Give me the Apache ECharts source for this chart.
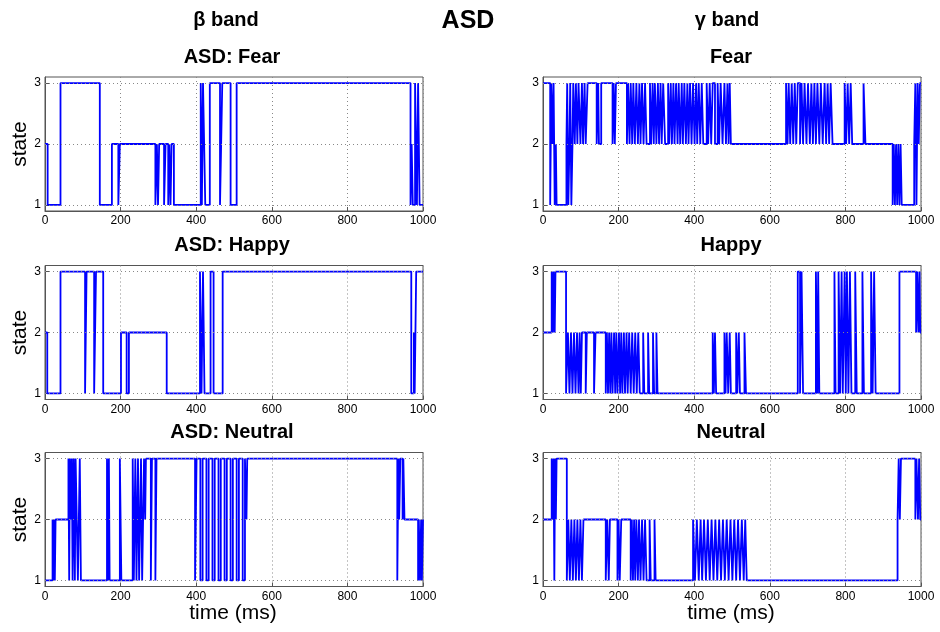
<!DOCTYPE html>
<html>
<head>
<meta charset="utf-8">
<script src="https://cdn.jsdelivr.net/npm/echarts@6/dist/echarts.min.js"></script>
<style>html,body{margin:0;padding:0;background:#fff}#c{width:940px;height:632px}</style>
</head>
<body>
<div id="c"></div>
<script>
// state sequences: [time (ms), state] — each state holds until the next entry
const betaFear = [[0,2],[7,1],[41,3],[145,1],[177,2],[194,1],[198,2],[292,1],[296,2],[299,1],[302,2],[315,1],[319,2],[326,1],[329,2],[332,1],[335,2],[341,1],[412,3],[415,1],[418,3],[421,2],[424,1],[436,3],[463,1],[466,2],[469,3],[491,1],[507,3],[967,1],[970,2],[973,1],[979,3],[984,1],[987,3],[991,1],[1000,1]];
const betaHappy = [[0,2],[6,1],[41,3],[106,1],[110,3],[115,3],[130,1],[135,3],[148,3],[154,1],[159,1],[201,2],[216,1],[222,2],[226,2],[322,1],[410,3],[414,1],[418,3],[422,1],[438,3],[446,1],[470,3],[969,1],[976,2],[978,1],[982,3],[1000,3]];
const betaNeutral = [[0,1],[20,2],[22,1],[24,2],[26,1],[28,2],[62,3],[64,1],[66,3],[68,2],[71,3],[73,1],[76,3],[79,1],[81,3],[84,2],[87,1],[92,3],[95,1],[164,3],[167,1],[169,3],[171,1],[198,3],[202,1],[232,3],[235,1],[239,3],[242,1],[246,3],[249,1],[254,3],[257,1],[262,3],[265,2],[267,3],[280,1],[283,3],[292,1],[295,3],[397,1],[401,3],[411,1],[417,3],[427,1],[433,3],[443,1],[449,3],[459,1],[465,3],[475,1],[481,3],[491,1],[497,3],[507,1],[513,3],[523,1],[529,3],[533,2],[535,3],[932,1],[935,3],[937,2],[940,3],[946,2],[948,3],[951,2],[987,1],[989,2],[992,1],[995,2],[997,1],[1000,2]];
const gammaFear = [[0,3],[19,1],[22,3],[25,2],[28,3],[31,1],[34,2],[36,1],[62,2],[64,3],[67,1],[70,2],[72,3],[75,1],[78,2],[80,3],[84,2],[87,3],[91,2],[94,3],[99,2],[103,3],[106,2],[110,3],[113,2],[118,3],[142,2],[146,3],[148,2],[154,3],[184,2],[187,3],[190,2],[193,3],[222,2],[225,3],[229,2],[232,3],[236,2],[239,3],[243,2],[247,3],[251,2],[255,3],[258,2],[262,3],[266,2],[270,3],[274,2],[283,3],[286,2],[290,3],[293,2],[296,3],[300,2],[304,3],[307,2],[311,3],[314,2],[318,3],[323,2],[331,3],[334,2],[338,3],[341,2],[345,3],[348,2],[352,3],[356,2],[359,3],[363,2],[367,3],[370,2],[374,3],[378,2],[382,3],[385,2],[389,3],[393,2],[397,3],[401,2],[405,3],[408,2],[412,3],[416,2],[420,3],[424,2],[433,3],[437,2],[441,3],[445,2],[449,3],[455,2],[462,3],[466,2],[470,3],[475,2],[480,3],[484,2],[488,3],[491,2],[494,3],[497,2],[643,3],[647,2],[650,3],[654,2],[658,3],[662,2],[666,3],[670,2],[674,3],[680,2],[684,3],[688,2],[692,3],[697,2],[701,3],[706,2],[710,3],[714,2],[718,3],[722,2],[726,3],[731,2],[735,3],[740,2],[745,3],[749,2],[753,3],[757,2],[761,3],[766,2],[798,3],[802,2],[806,3],[810,2],[814,3],[818,2],[848,3],[853,2],[925,1],[928,2],[931,1],[934,2],[937,1],[940,2],[943,1],[946,2],[949,1],[982,2],[985,3],[988,1],[991,3],[994,2],[997,3],[1000,3]];
const gammaHappy = [[0,2],[23,3],[26,2],[28,3],[31,2],[33,3],[61,1],[66,2],[70,1],[74,2],[78,1],[82,2],[86,1],[90,2],[94,1],[97,2],[100,1],[103,2],[113,1],[116,2],[135,1],[139,2],[166,1],[169,2],[172,1],[175,2],[178,1],[181,2],[184,1],[188,2],[191,1],[194,2],[197,1],[201,2],[204,1],[207,2],[210,1],[214,2],[217,1],[221,2],[224,1],[228,2],[232,1],[236,2],[240,1],[244,2],[248,1],[252,2],[256,1],[265,2],[268,1],[278,2],[281,1],[291,2],[294,1],[300,2],[303,1],[449,2],[452,1],[455,2],[458,1],[480,2],[483,1],[486,2],[490,1],[494,2],[497,1],[511,2],[514,1],[518,2],[521,1],[533,2],[537,1],[674,3],[680,1],[684,3],[688,1],[722,3],[726,1],[728,3],[731,1],[771,3],[774,1],[782,3],[786,1],[790,3],[793,1],[798,3],[801,1],[804,3],[808,1],[812,3],[816,1],[826,3],[830,1],[845,3],[849,1],[868,3],[872,1],[876,3],[880,1],[943,3],[987,2],[990,3],[993,2],[996,3],[998,2],[1000,2]];
const gammaNeutral = [[0,2],[23,3],[26,2],[28,3],[30,1],[32,3],[34,2],[36,3],[63,1],[67,2],[71,1],[75,2],[79,1],[83,2],[87,1],[91,2],[95,1],[99,2],[103,1],[107,2],[166,1],[170,2],[174,1],[177,2],[197,1],[200,2],[203,1],[207,2],[232,1],[235,2],[238,1],[241,2],[244,1],[247,2],[251,1],[254,2],[258,1],[262,2],[266,1],[270,2],[274,1],[282,2],[285,1],[295,2],[298,1],[397,2],[402,1],[407,2],[412,1],[417,2],[421,1],[426,2],[431,1],[436,2],[441,1],[446,2],[451,1],[456,2],[461,1],[466,2],[471,1],[476,2],[481,1],[486,2],[491,1],[496,2],[501,1],[506,2],[511,1],[516,2],[521,1],[526,2],[531,1],[535,2],[539,1],[938,2],[941,3],[944,2],[947,3],[985,2],[988,3],[992,2],[995,3],[998,2],[1000,2]];

const panelTitles = ['ASD: Fear','Fear','ASD: Happy','Happy','ASD: Neutral','Neutral'];
const panelData = [betaFear, gammaFear, betaHappy, gammaHappy, betaNeutral, gammaNeutral];
const yTicks = [1,2,3];
const xTicks = [0,200,400,600,800,1000];

const FONT = '"Liberation Sans", Arial, sans-serif';
const lefts = [45, 543];
const tops = [77, 265.5, 452.5];
const W = 378, H = 134;

const grids = [], xAxes = [], yAxes = [], series = [], graphics = [];
panelData.forEach((d, i) => {
  const col = i % 2, row = Math.floor(i / 2);
  grids.push({left: lefts[col], top: tops[row], width: W, height: H, show: true, borderColor: '#555', borderWidth: 1, backgroundColor: '#fff'});
  xAxes.push({
    gridIndex: i, type: 'value', min: xTicks[0], max: xTicks[xTicks.length-1], interval: 200,
    axisLine: {show: true, lineStyle: {color: '#555'}},
    axisTick: {inside: true, length: 4, lineStyle: {color: '#555'}},
    axisLabel: {color: '#000', fontSize: 12, fontFamily: FONT, margin: 4, formatter: v => String(v)},
    splitLine: {show: true, lineStyle: {type: [1, 3], color: '#888'}}
  });
  yAxes.push({
    gridIndex: i, type: 'value', min: 0.9, max: 3.1,
    axisLine: {show: true, lineStyle: {color: '#555'}},
    axisTick: {inside: true, length: 4, customValues: yTicks, lineStyle: {color: '#555'}},
    axisLabel: {color: '#000', fontSize: 12, fontFamily: FONT, margin: 4, customValues: yTicks},
    splitLine: {show: false}
  });
  series.push({
    type: 'line', xAxisIndex: i, yAxisIndex: i, data: [], z: 1, silent: true,
    markLine: {silent: true, symbol: 'none', label: {show: false},
      lineStyle: {type: [1, 3], color: '#888', width: 1},
      data: yTicks.map(v => ({yAxis: v}))}
  });
  series.push({
    type: 'line', xAxisIndex: i, yAxisIndex: i, data: d, step: 'end',
    showSymbol: false, symbol: 'none', z: 3, animation: false,
    lineStyle: {color: '#0000ff', width: 1.8}
  });
  graphics.push({type: 'text', style: {text: panelTitles[i], x: lefts[col] + W/2 + (col ? -1 : -2), y: tops[row] - 20,
    textAlign: 'center', textVerticalAlign: 'middle', font: 'bold 20px ' + FONT, fill: '#000'}});
  if (col === 0) {
    graphics.push({type: 'text', rotation: Math.PI/2, x: 20, y: tops[row] + H/2,
      style: {text: 'state', x: 0, y: 0, textAlign: 'center', textVerticalAlign: 'middle', font: '21px ' + FONT, fill: '#000'}});
  }
});
graphics.push({type: 'text', style: {text: 'β band', x: 226, y: 20, textAlign: 'center', textVerticalAlign: 'middle', font: 'bold 20px ' + FONT, fill: '#000'}});
graphics.push({type: 'text', style: {text: 'ASD', x: 468, y: 21, textAlign: 'center', textVerticalAlign: 'middle', font: 'bold 25px ' + FONT, fill: '#000'}});
graphics.push({type: 'text', style: {text: 'γ band', x: 727, y: 20, textAlign: 'center', textVerticalAlign: 'middle', font: 'bold 20px ' + FONT, fill: '#000'}});
graphics.push({type: 'text', style: {text: 'time (ms)', x: 233, y: 613, textAlign: 'center', textVerticalAlign: 'middle', font: '21px ' + FONT, fill: '#000'}});
graphics.push({type: 'text', style: {text: 'time (ms)', x: 731, y: 613, textAlign: 'center', textVerticalAlign: 'middle', font: '21px ' + FONT, fill: '#000'}});

const chart = echarts.init(document.getElementById('c'), null, {renderer: 'canvas'});
chart.setOption({
  animation: false,
  backgroundColor: '#fff',
  grid: grids, xAxis: xAxes, yAxis: yAxes, series: series, graphic: graphics
});
</script>
</body>
</html>
